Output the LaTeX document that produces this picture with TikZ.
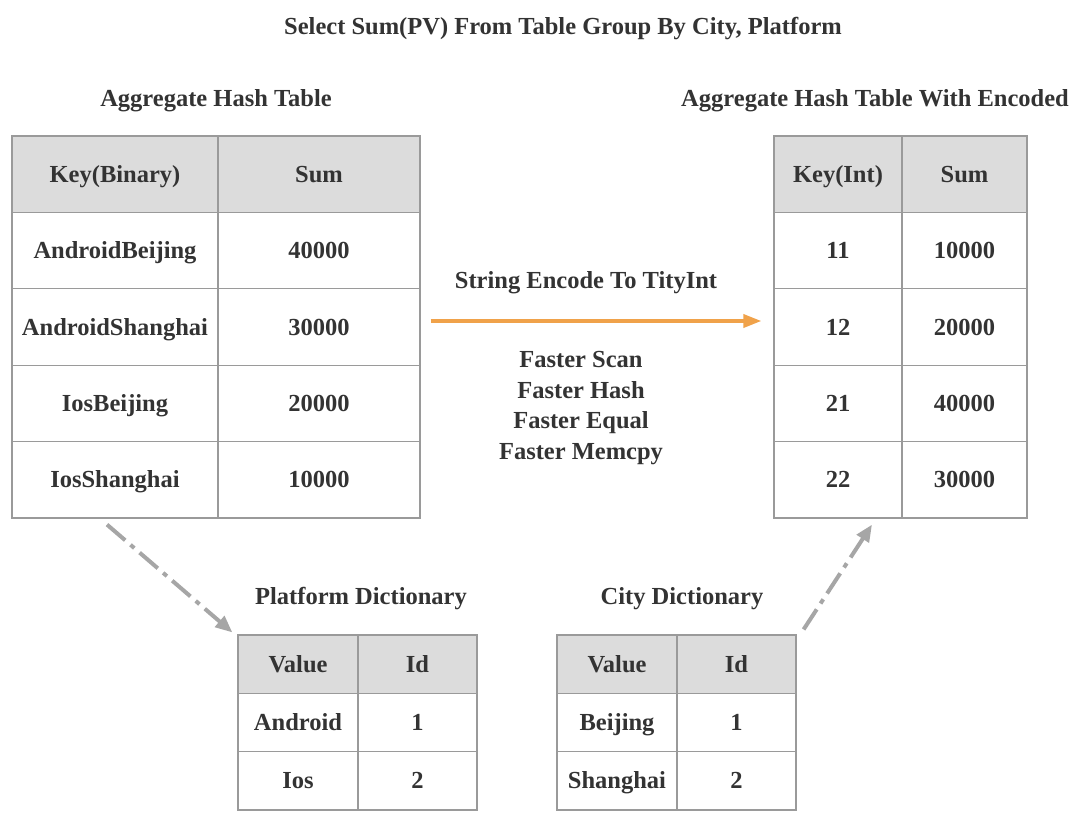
\documentclass[tikz,border=0pt]{standalone}
\usepackage{fontspec}
\setmainfont{Liberation Serif}
\usetikzlibrary{arrows.meta}

\definecolor{txtgray}{HTML}{333333}
\definecolor{linegray}{HTML}{9A9A9A}
\definecolor{headgray}{HTML}{DCDCDC}
\definecolor{encorange}{HTML}{F0A24A}
\definecolor{dictarrow}{HTML}{A6A6A6}

\begin{document}
\begin{tikzpicture}[x=1pt,y=-1pt,font=\fontsize{24.5}{28}\selectfont\bfseries,text=txtgray,
    every node/.style={text height=16pt,text depth=0pt}]
    \tikzstyle{cell}=[draw=linegray,line width=1.2pt,inner sep=0pt]
    \tikzstyle{big cell}=[cell,minimum height=76.4pt]
    \tikzstyle{small cell}=[cell,minimum height=58.3pt]
    \tikzstyle{head}=[fill=headgray]
    \tikzstyle{dict link}=[draw=dictarrow,line width=4pt,dash pattern=on 24pt off 7pt on 5pt off 7pt,-{Triangle[length=17pt,width=14pt]}]
    \tikzstyle{encode link}=[draw=encorange,line width=3.5pt,-{Triangle[length=18pt,width=13pt]}]

    \useasboundingbox (0,0) rectangle (1080,820);

    % Title and table captions
    \node (title) at (563,26) {Select Sum(PV) From Table Group By City, Platform};
    \node (hl) at (216,98) {Aggregate Hash Table};
    \node (el) at (875,98) {Aggregate Hash Table With Encoded};
    \node (pl) at (361,596) {Platform Dictionary};
    \node (cl) at (682,596) {City Dictionary};

    % Draw the aggregate hash table
    \node[big cell,head,minimum width=206pt] (HK-0) at (115,174.2) {Key(Binary)};
    \node[big cell,head,minimum width=202pt] (HS-0) at (319,174.2) {Sum};
    \foreach \y/\kname/\sval in {1/AndroidBeijing/40000,2/AndroidShanghai/30000,3/IosBeijing/20000,4/IosShanghai/10000}
      {
      \node[big cell,minimum width=206pt] (HK-\y) at (115,174.2+76.4*\y) {\kname};
      \node[big cell,minimum width=202pt] (HS-\y) at (319,174.2+76.4*\y) {\sval};
      }

    % Draw the encoded hash table
    \node[big cell,head,minimum width=128pt] (EK-0) at (838,174.2) {Key(Int)};
    \node[big cell,head,minimum width=125pt] (ES-0) at (964.5,174.2) {Sum};
    \foreach \y/\kname/\sval in {1/11/10000,2/12/20000,3/21/40000,4/22/30000}
      {
      \node[big cell,minimum width=128pt] (EK-\y) at (838,174.2+76.4*\y) {\kname};
      \node[big cell,minimum width=125pt] (ES-\y) at (964.5,174.2+76.4*\y) {\sval};
      }

    % Draw the two dictionaries
    \node[small cell,head,minimum width=120pt] (PV-0) at (298,664.2) {Value};
    \node[small cell,head,minimum width=119pt] (PI-0) at (417.5,664.2) {Id};
    \node[small cell,head,minimum width=120pt] (CV-0) at (617,664.2) {Value};
    \node[small cell,head,minimum width=119pt] (CI-0) at (736.5,664.2) {Id};
    \foreach \y/\pname/\cname in {1/Android/Beijing,2/Ios/Shanghai}
      {
      \node[small cell,minimum width=120pt] (PV-\y) at (298,664.2+58.3*\y) {\pname};
      \node[small cell,minimum width=119pt] (PI-\y) at (417.5,664.2+58.3*\y) {\y};
      \node[small cell,minimum width=120pt] (CV-\y) at (617,664.2+58.3*\y) {\cname};
      \node[small cell,minimum width=119pt] (CI-\y) at (736.5,664.2+58.3*\y) {\y};
      }

    % Encoding step in the middle
    \node (enc) at (586,280) {String Encode To TityInt};
    \foreach \i/\gain in {0/Scan,1/Hash,2/Equal,3/Memcpy}
      \node (fast-\i) at (581,359.5+30.5*\i) {Faster \gain};
    \draw[encode link] ([xshift=10pt,yshift=6pt]HS-2.east) -- ([xshift=-12pt,yshift=6pt]EK-2.west);

    % Links to and from the dictionaries
    \draw[dict link] ([xshift=-8pt,yshift=-6pt]HK-4.south) -- ([xshift=-5pt,yshift=2pt]PV-0.north west);
    \draw[dict link] ([xshift=7pt,yshift=5pt]CI-0.north east) -- ([xshift=34pt,yshift=-6pt]EK-4.south);
\end{tikzpicture}
\end{document}
